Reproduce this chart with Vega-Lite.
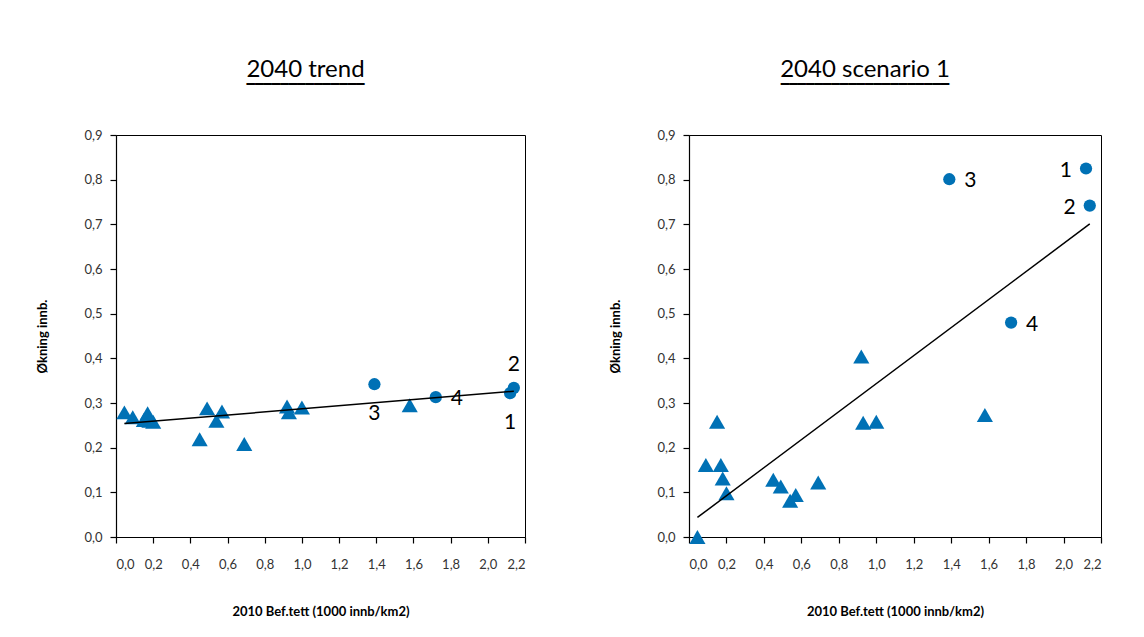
{
  "$schema": "https://vega.github.io/schema/vega-lite/v6.json",
  "background": "white",
  "padding": {"left": 36, "top": 57, "right": 5, "bottom": 5},
  "config": {
    "locale": {"number": {"decimal": ",", "thousands": " ", "grouping": [3], "currency": ["", " kr"]}},
    "view": {"stroke": "black", "strokeWidth": 1},
    "font": "Lato",
    "axis": {
      "grid": false, "domainColor": "black", "tickColor": "black", "domainWidth": 1.2, "tickWidth": 1.2,
      "tickSize": 6, "labelFont": "Lato", "labelFontSize": 13, "labelColor": "#333333",
      "titleFont": "Lato", "titleFontSize": 13, "titleFontWeight": "bold", "titleColor": "black"
    },
    "axisX": {"labelPadding": 15, "titlePadding": 34},
    "axisY": {"labelPadding": 8, "titlePadding": 34},
    "title": {"font": "Lato", "fontSize": 24, "fontWeight": "normal", "color": "black", "anchor": "middle", "offset": 30,
              "subtitleFont": "DejaVu Sans Mono", "subtitleFontSize": 14, "subtitleColor": "black", "subtitlePadding": 0},
    "concat": {"spacing": 82}
  },
  "datasets": {
    "pts": [
      {"x": 0.045, "y_trend": 0.279, "y_scen1": 0.0, "type": "triangle", "label": null},
      {"x": 0.09, "y_trend": 0.268, "y_scen1": 0.161, "type": "triangle", "label": null},
      {"x": 0.15, "y_trend": 0.262, "y_scen1": 0.258, "type": "triangle", "label": null},
      {"x": 0.17, "y_trend": 0.277, "y_scen1": 0.161, "type": "triangle", "label": null},
      {"x": 0.18, "y_trend": 0.26, "y_scen1": 0.131, "type": "triangle", "label": null},
      {"x": 0.2, "y_trend": 0.258, "y_scen1": 0.098, "type": "triangle", "label": null},
      {"x": 0.45, "y_trend": 0.219, "y_scen1": 0.128, "type": "triangle", "label": null},
      {"x": 0.49, "y_trend": 0.288, "y_scen1": 0.113, "type": "triangle", "label": null},
      {"x": 0.54, "y_trend": 0.26, "y_scen1": 0.081, "type": "triangle", "label": null},
      {"x": 0.57, "y_trend": 0.281, "y_scen1": 0.094, "type": "triangle", "label": null},
      {"x": 0.69, "y_trend": 0.208, "y_scen1": 0.122, "type": "triangle", "label": null},
      {"x": 0.92, "y_trend": 0.292, "y_scen1": 0.404, "type": "triangle", "label": null},
      {"x": 0.93, "y_trend": 0.279, "y_scen1": 0.256, "type": "triangle", "label": null},
      {"x": 1.0, "y_trend": 0.29, "y_scen1": 0.258, "type": "triangle", "label": null},
      {"x": 1.58, "y_trend": 0.295, "y_scen1": 0.273, "type": "triangle", "label": null},
      {"x": 1.39, "y_trend": 0.342, "y_scen1": 0.801, "type": "circle", "label": "3"},
      {"x": 2.12, "y_trend": 0.322, "y_scen1": 0.825, "type": "circle", "label": "1"},
      {"x": 2.14, "y_trend": 0.334, "y_scen1": 0.742, "type": "circle", "label": "2"},
      {"x": 1.72, "y_trend": 0.313, "y_scen1": 0.48, "type": "circle", "label": "4"}
    ]
  },
  "hconcat": [
    {
      "width": 409, "height": 402,
      "data": {"name": "pts"},
      "title": {"text": "2040 trend", "subtitle": "▔▔▔▔▔▔▔▔▔▔▔▔▔▔", "dx": -15},
      "encoding": {
        "x": {"field": "x", "type": "quantitative", "scale": {"domain": [0, 2.2], "nice": false, "zero": false},
              "axis": {"values": [0, 0.2, 0.4, 0.6, 0.8, 1.0, 1.2, 1.4, 1.6, 1.8, 2.0, 2.2], "format": ".1f", "title": "2010 Bef.tett (1000 innb/km2)"}},
        "y": {"field": "y_trend", "type": "quantitative", "scale": {"domain": [0, 0.9], "nice": false, "zero": false},
              "axis": {"values": [0, 0.1, 0.2, 0.3, 0.4, 0.5, 0.6, 0.7, 0.8, 0.9], "format": ".1f", "title": "Økning innb."}}
      },
      "layer": [
        {"transform": [{"filter": "datum.type === 'triangle'"}],
         "mark": {"type": "point", "shape": "triangle-up", "filled": true, "opacity": 1, "color": "#0071B5", "size": 260}},
        {"transform": [{"filter": "datum.type === 'circle'"}],
         "mark": {"type": "point", "shape": "circle", "filled": true, "opacity": 1, "color": "#0071B5", "size": 150}},
        {"transform": [{"regression": "y_trend", "on": "x"}],
         "mark": {"type": "line", "color": "black", "strokeWidth": 1.5}},
        {"transform": [{"filter": "datum.label === '2'"}],
         "mark": {"type": "text", "fontSize": 21, "font": "Lato", "color": "black", "align": "center", "baseline": "middle", "dy": -23},
         "encoding": {"text": {"field": "label"}}},
        {"transform": [{"filter": "datum.label === '1' || datum.label === '3'"}],
         "mark": {"type": "text", "fontSize": 21, "font": "Lato", "color": "black", "align": "center", "baseline": "middle", "dy": 30},
         "encoding": {"text": {"field": "label"}}},
        {"transform": [{"filter": "datum.label === '4'"}],
         "mark": {"type": "text", "fontSize": 21, "font": "Lato", "color": "black", "align": "left", "baseline": "middle", "dx": 15, "dy": 2},
         "encoding": {"text": {"field": "label"}}}
      ]
    },
    {
      "width": 412, "height": 402,
      "data": {"name": "pts"},
      "title": {"text": "2040 scenario 1", "subtitle": "▔▔▔▔▔▔▔▔▔▔▔▔▔▔▔▔▔▔▔▔", "dx": -30},
      "encoding": {
        "x": {"field": "x", "type": "quantitative", "scale": {"domain": [0, 2.2], "nice": false, "zero": false},
              "axis": {"values": [0, 0.2, 0.4, 0.6, 0.8, 1.0, 1.2, 1.4, 1.6, 1.8, 2.0, 2.2], "format": ".1f", "title": "2010 Bef.tett (1000 innb/km2)"}},
        "y": {"field": "y_scen1", "type": "quantitative", "scale": {"domain": [0, 0.9], "nice": false, "zero": false},
              "axis": {"values": [0, 0.1, 0.2, 0.3, 0.4, 0.5, 0.6, 0.7, 0.8, 0.9], "format": ".1f", "title": "Økning innb."}}
      },
      "layer": [
        {"transform": [{"filter": "datum.type === 'triangle'"}],
         "mark": {"type": "point", "shape": "triangle-up", "filled": true, "opacity": 1, "color": "#0071B5", "size": 260}},
        {"transform": [{"filter": "datum.type === 'circle'"}],
         "mark": {"type": "point", "shape": "circle", "filled": true, "opacity": 1, "color": "#0071B5", "size": 150}},
        {"transform": [{"regression": "y_scen1", "on": "x"}],
         "mark": {"type": "line", "color": "black", "strokeWidth": 1.5}},
        {"transform": [{"filter": "datum.label === '3' || datum.label === '4'"}],
         "mark": {"type": "text", "fontSize": 21, "font": "Lato", "color": "black", "align": "left", "baseline": "middle", "dx": 15, "dy": 2},
         "encoding": {"text": {"field": "label"}}},
        {"transform": [{"filter": "datum.label === '1' || datum.label === '2'"}],
         "mark": {"type": "text", "fontSize": 21, "font": "Lato", "color": "black", "align": "right", "baseline": "middle", "dx": -14, "dy": 2},
         "encoding": {"text": {"field": "label"}}}
      ]
    }
  ]
}
